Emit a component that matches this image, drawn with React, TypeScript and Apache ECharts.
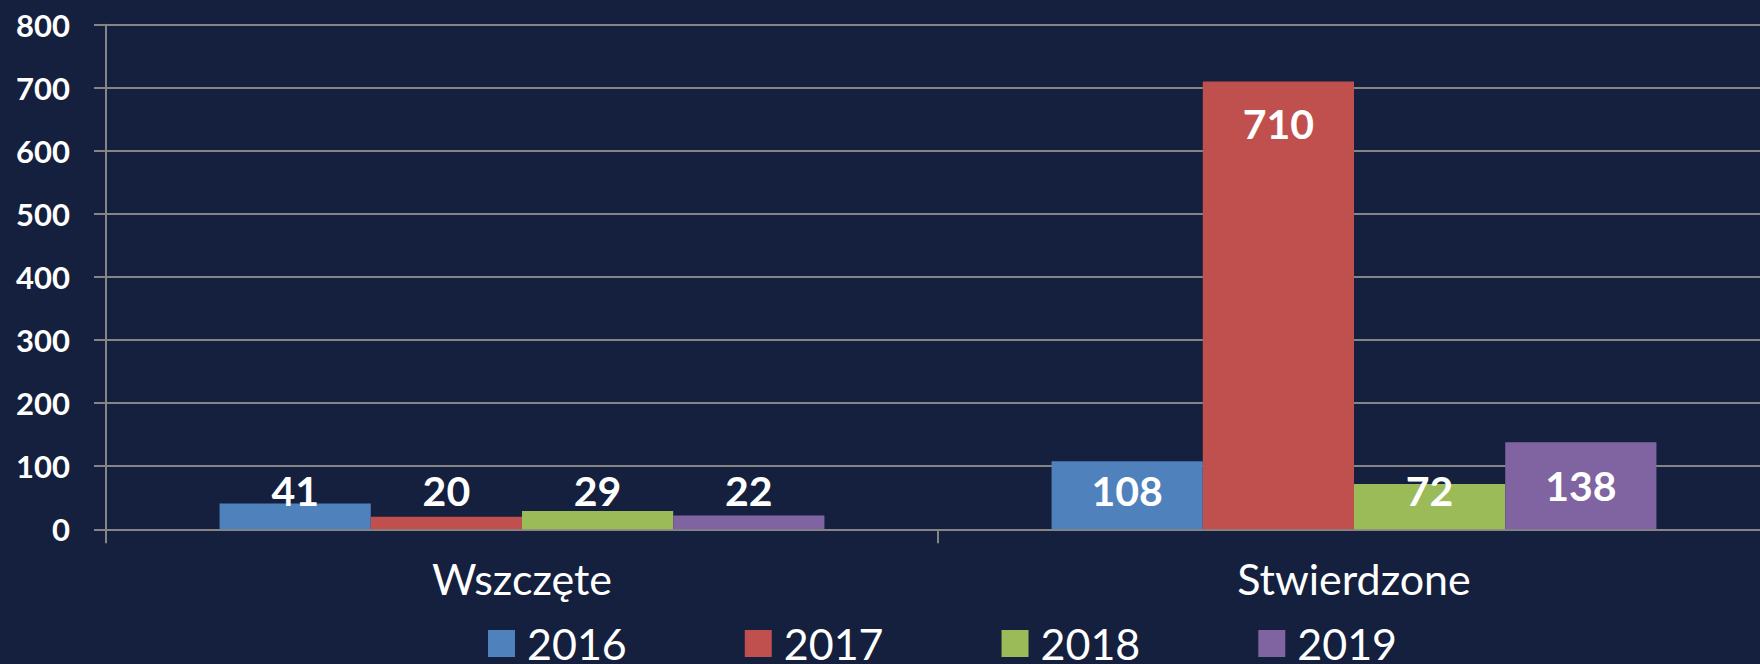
import React, { useEffect, useRef } from "react";
import * as echarts from "echarts";

const categories = ["Wszczęte", "Stwierdzone"];
const years = ["2016", "2017", "2018", "2019"];
const values2016 = [41, 108];
const values2017 = [20, 710];
const values2018 = [29, 72];
const values2019 = [22, 138];
const colors = ["#4F81BD", "#C0504D", "#9BBB59", "#8064A2"];
const yTicks = [0, 800, 100];

const seriesValues = [values2016, values2017, values2018, values2019];

function labelFor(v: number) {
  if (v >= 500) return { position: "insideTop", distance: 22 };
  if (v >= 130) return { position: "inside" };
  return { position: "insideBottom", distance: 18 };
}

export default function App() {
  const ref = useRef<HTMLDivElement>(null);
  useEffect(() => {
    const chart = echarts.init(ref.current!, null, { renderer: "svg" });
    const gridColor = "#858585";
    chart.setOption({
      animation: false,
      backgroundColor: "#151F3E",
      textStyle: { fontFamily: "Lato" },
      grid: { left: 106, right: 10, top: 24.7, bottom: 134.7, containLabel: false },
      legend: {
        data: years,
        left: 488,
        top: 622,
        padding: 0,
        itemWidth: 27,
        itemHeight: 27,
        itemGap: 118,
        icon: "rect",
        textStyle: { color: "#ffffff", fontSize: 43, lineHeight: 34, fontFamily: "Lato", padding: [0, 0, 6, 7] },
      },
      xAxis: {
        type: "category",
        data: categories,
        axisLine: { show: true, lineStyle: { color: gridColor, width: 2 } },
        axisTick: { show: true, length: 14, alignWithLabel: false, lineStyle: { color: gridColor, width: 2 } },
        axisLabel: { color: "#ffffff", fontSize: 43, fontFamily: "Lato", margin: 28 },
      },
      yAxis: {
        type: "value",
        min: yTicks[0],
        max: yTicks[1],
        interval: yTicks[2],
        axisLine: { show: true, lineStyle: { color: gridColor, width: 2 } },
        axisTick: { show: true, length: 12, lineStyle: { color: gridColor, width: 2 } },
        splitLine: { show: true, lineStyle: { color: gridColor, width: 2 } },
        axisLabel: { color: "#ffffff", fontSize: 31, fontWeight: "bold", fontFamily: "Lato", margin: 36 },
      },
      series: years.map((y, i) => ({
        name: y,
        type: "bar",
        barGap: "0%",
        barCategoryGap: "27.3%",
        itemStyle: { color: colors[i] },
        data: seriesValues[i].map((v) => ({
          value: v,
          label: {
            show: true,
            color: "#ffffff",
            fontSize: 41,
            fontWeight: "bold",
            fontFamily: "Lato",
            ...labelFor(v),
          },
        })),
      })),
    });
    return () => chart.dispose();
  }, []);
  return (
    <div style={{ position: "absolute", left: 0, top: 0, width: 1760, height: 664, overflow: "hidden" }}>
      <div ref={ref} style={{ position: "absolute", left: 0, top: 0, width: 1780, height: 664 }} />
    </div>
  );
}
